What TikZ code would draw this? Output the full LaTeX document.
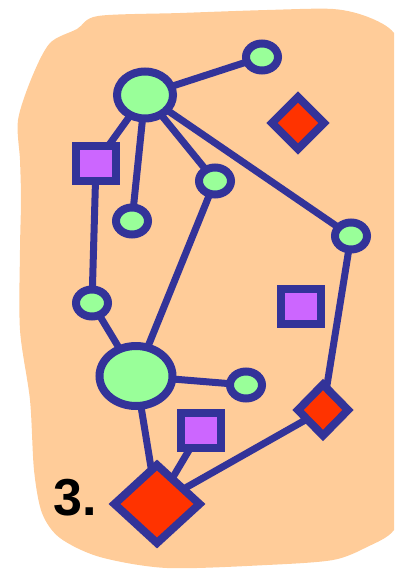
\documentclass[tikz,border=0pt]{standalone}
\usepackage{fontspec}
\setmainfont{Liberation Sans}
\definecolor{edgeblue}{RGB}{51, 51, 153}
\definecolor{paleorange}{RGB}{255, 204, 153}
\definecolor{leafgreen}{RGB}{153, 255, 153}
\definecolor{boxviolet}{RGB}{204, 102, 255}
\definecolor{hotred}{RGB}{255, 51, 0}
\usetikzlibrary{shapes.geometric}

\begin{document}
\begin{tikzpicture}[x=1pt, y=-1pt,
            ov/.style={ellipse, draw=edgeblue, fill=leafgreen, line width=8pt,
                       inner sep=0pt, outer sep=0pt, minimum width=32pt, minimum height=27pt},
            sq/.style={rectangle, draw=edgeblue, fill=boxviolet, line width=8pt,
                       inner sep=0pt, outer sep=0pt, minimum width=40pt, minimum height=35pt},
            dm/.style={diamond, draw=edgeblue, fill=hotred, line width=8pt,
                       inner sep=0pt, outer sep=0pt, minimum width=52pt, minimum height=52pt},
            ln/.style={line width=7pt, draw=edgeblue}
          ]
          \useasboundingbox (0,0) rectangle (394,570);
          \clip (0,0) rectangle (394,570);
          % background blob
          \fill[paleorange] plot[smooth cycle, tension=0.5] coordinates {
            (98,16) (180,13) (267,10) (333,9) (368,17) (394,33) (408,70) (410,300)
            (408,490) (394,530) (367,547) (333,560) (267,565) (167,568) (100,557)
            (60,538) (42,513) (34,470) (30,400) (20,330) (20,250) (21,200)
            (20,160) (18,120) (32,77) (50,43) (77,29)};
          % nodes
          \node[ov, minimum width=56pt, minimum height=47pt] (hub) at (145,95) {};
          \node[ov] (tr) at (262,57) {};
          \node[dm] (rd1) at (298,123) {};
          \node[sq] (vs1) at (96,163) {};
          \node[ov] (mid) at (215,181) {};
          \node[ov] (lo) at (132,221) {};
          \node[ov] (rt) at (351,236) {};
          \node[ov] (lf) at (92,303) {};
          \node[sq] (vs2) at (301,306) {};
          \node[ov, minimum width=73pt, minimum height=60pt] (big) at (136,376) {};
          \node[ov] (br) at (246,385) {};
          \node[sq] (vs3) at (201,430) {};
          \node[dm, minimum width=50pt, minimum height=51pt] (rd2) at (323,410) {};
          \node[dm, minimum width=85pt, minimum height=78pt] (rd3) at (157,504) {};
          \node[anchor=base west, font=\bfseries\fontsize{52}{52}\selectfont, inner sep=0pt]
            (lbl) at (53,515) {3.};
          % edges
          \draw[ln] (hub)--(tr);\draw[ln] (hub)--(vs1);\draw[ln] (hub)--(lo);
          \draw[ln] (hub)--(mid);\draw[ln] (hub)--(rt);
          \draw[ln] (vs1)--(lf);\draw[ln] (lf)--(big);\draw[ln] (mid)--(big);
          \draw[ln] (big)--(br);\draw[ln] (big)--(rd3);\draw[ln] (vs3)--(rd3);
          \draw[ln] (rd3)--(rd2);\draw[ln] (rd2)--(rt);
        \end{tikzpicture}
\end{document}
